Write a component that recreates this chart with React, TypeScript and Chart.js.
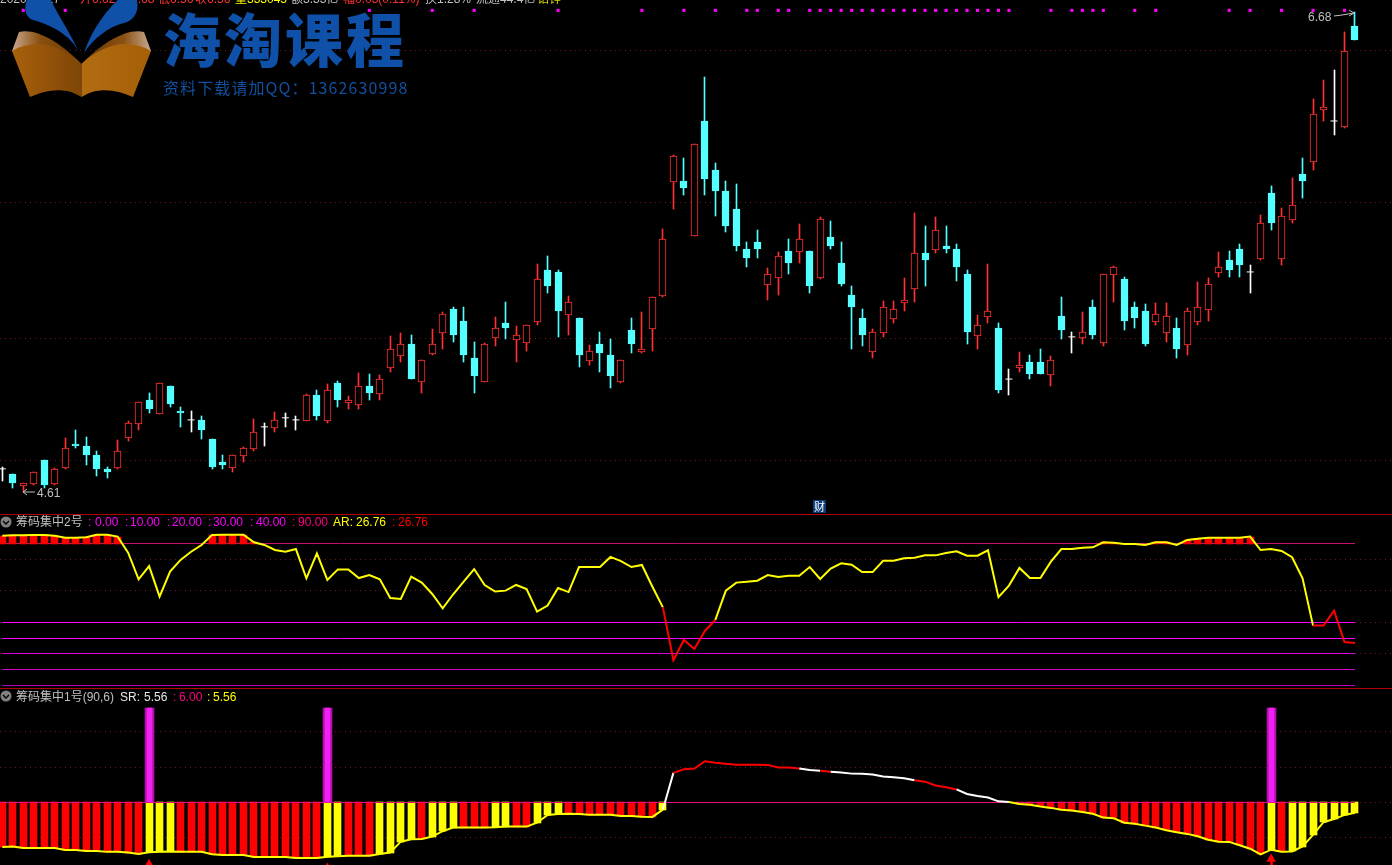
import React, { useEffect, useRef } from "react";
import { Chart, registerables } from "chart.js";

Chart.register(...registerables);

// ---------- price panel ----------
const open = [4.710,4.688,4.638,4.645,4.748,4.645,4.714,4.818,4.809,4.770,4.710,4.714,4.844,4.903,5.007,4.947,5.067,4.960,4.921,4.921,4.839,4.740,4.714,4.766,4.796,4.891,4.887,4.930,4.921,4.917,5.029,4.917,5.080,4.994,4.985,5.067,5.033,5.145,5.197,5.249,5.085,5.206,5.296,5.399,5.348,5.188,5.085,5.274,5.339,5.266,5.253,5.343,5.568,5.559,5.374,5.361,5.176,5.249,5.201,5.085,5.309,5.214,5.313,5.456,5.947,5.952,5.714,6.210,5.999,5.908,5.831,5.658,5.688,5.503,5.533,5.650,5.645,5.650,5.533,5.710,5.598,5.460,5.361,5.214,5.296,5.356,5.425,5.486,5.641,5.654,5.671,5.658,5.550,5.283,5.365,5.318,5.097,5.145,5.171,5.171,5.115,5.369,5.279,5.274,5.408,5.253,5.546,5.529,5.408,5.391,5.343,5.296,5.318,5.244,5.343,5.395,5.555,5.611,5.658,5.559,5.615,5.900,5.615,5.783,5.982,6.033,6.258,6.210,6.184,6.620];
const high = [4.718,4.688,4.649,4.696,4.748,4.714,4.844,4.878,4.848,4.788,4.718,4.835,4.917,4.998,5.037,5.080,5.067,4.977,4.960,4.938,4.839,4.770,4.770,4.805,4.925,4.908,4.955,4.951,4.938,5.033,5.050,5.076,5.089,5.024,5.124,5.120,5.115,5.283,5.296,5.287,5.180,5.313,5.387,5.408,5.408,5.257,5.253,5.365,5.430,5.326,5.331,5.594,5.628,5.568,5.456,5.361,5.244,5.300,5.270,5.180,5.361,5.387,5.451,5.744,6.064,6.051,6.111,6.400,6.029,5.952,5.939,5.688,5.740,5.576,5.645,5.701,5.766,5.650,5.796,5.779,5.688,5.499,5.399,5.313,5.434,5.434,5.533,5.814,5.757,5.796,5.757,5.680,5.568,5.374,5.594,5.339,5.141,5.214,5.201,5.227,5.197,5.451,5.300,5.387,5.438,5.550,5.585,5.538,5.430,5.421,5.425,5.425,5.361,5.404,5.516,5.533,5.645,5.650,5.680,5.589,5.805,5.930,5.835,5.964,6.051,6.305,6.387,6.430,6.594,6.680];
const low = [4.658,4.627,4.610,4.640,4.627,4.640,4.710,4.801,4.727,4.679,4.671,4.710,4.831,4.878,4.951,4.947,4.977,4.891,4.869,4.839,4.710,4.710,4.696,4.740,4.788,4.809,4.869,4.891,4.878,4.917,4.921,4.908,4.977,4.968,4.968,5.007,5.007,5.128,5.171,5.097,5.037,5.201,5.227,5.257,5.171,5.037,5.085,5.240,5.270,5.171,5.219,5.331,5.469,5.279,5.287,5.150,5.158,5.128,5.059,5.080,5.210,5.210,5.219,5.451,5.831,5.891,5.714,5.891,5.801,5.731,5.650,5.581,5.619,5.438,5.460,5.550,5.598,5.469,5.529,5.658,5.499,5.227,5.240,5.188,5.279,5.339,5.391,5.430,5.499,5.641,5.641,5.520,5.249,5.227,5.339,5.037,5.029,5.128,5.097,5.120,5.067,5.270,5.210,5.249,5.270,5.240,5.430,5.309,5.318,5.240,5.331,5.257,5.188,5.201,5.331,5.348,5.538,5.538,5.538,5.469,5.611,5.740,5.589,5.770,5.878,5.999,6.210,6.150,6.180,6.560];
const close = [4.710,4.649,4.647,4.696,4.640,4.710,4.801,4.809,4.770,4.710,4.696,4.788,4.908,4.998,4.968,5.080,4.990,4.951,4.921,4.878,4.718,4.727,4.770,4.801,4.869,4.891,4.921,4.930,4.921,5.029,4.938,5.050,5.007,5.007,5.067,5.037,5.097,5.227,5.249,5.097,5.180,5.249,5.378,5.287,5.201,5.111,5.249,5.318,5.318,5.287,5.331,5.529,5.499,5.391,5.430,5.201,5.219,5.210,5.111,5.180,5.249,5.227,5.451,5.701,6.059,5.921,6.111,5.960,5.908,5.757,5.671,5.619,5.658,5.550,5.628,5.598,5.701,5.499,5.787,5.671,5.507,5.408,5.287,5.300,5.408,5.399,5.438,5.641,5.611,5.740,5.658,5.581,5.300,5.331,5.391,5.050,5.097,5.158,5.120,5.120,5.180,5.309,5.279,5.300,5.287,5.550,5.581,5.348,5.361,5.249,5.378,5.369,5.227,5.391,5.408,5.507,5.581,5.568,5.589,5.559,5.770,5.770,5.801,5.848,5.952,6.240,6.271,6.210,6.512,6.560];
const priceGrid = [6.512, 5.857, 5.27, 4.744];
const signalDots = [2,6,35,41,45,53,61,65,68,71,72,74,75,77,78,79,80,81,82,83,84,85,86,87,88,89,90,91,92,93,94,95,96,100,102,103,104,105,108,110,117,119,122,125,128];
const signalDotLevel = 6.687;

// ---------- 筹码集中2号 ----------
const arValues = [95.0,95.2,95.2,95.4,95.4,95.0,93.7,93.7,94.0,95.6,95.6,94.4,84.2,67.3,75.7,56.3,72.2,79.6,84.8,89.1,95.4,95.6,95.6,95.6,90.8,89.1,85.9,84.8,86.5,67.9,83.8,66.9,73.6,73.6,68.1,70.0,67.3,55.4,54.8,69.0,65.2,58.0,48.9,57.8,65.8,73.8,63.7,59.5,60.1,63.7,61.1,46.8,50.6,61.8,59.2,75.1,75.1,75.1,81.5,78.9,75.1,76.4,62.6,49.5,15.9,28.8,23.1,34.5,41.5,60.1,65.2,65.8,66.4,70.0,68.8,69.6,69.6,75.1,67.5,74.1,77.5,76.6,71.9,71.9,79.1,79.1,80.6,81.0,82.5,82.5,84.0,85.1,82.3,82.3,85.7,55.9,63.3,74.5,68.1,68.1,78.5,86.5,86.5,87.4,87.6,90.8,90.5,89.7,89.7,89.1,90.8,90.8,89.1,92.3,93.1,93.7,93.7,93.7,93.7,94.4,85.9,86.5,85.3,81.3,67.9,37.9,37.9,47.4,27.5,26.8];
const arRedSegments = [63,64,65,66,67,125,126,127,128];
const arLevels = [0, 10, 20, 30, 40, 90];
const arGrid = [80, 60, 40, 20];
const arBarBase = 90;

// ---------- 筹码集中1号 ----------
const srValues = [4.16,4.18,4.12,4.12,4.12,4.12,4.04,4.04,4.00,4.00,3.96,3.96,3.93,3.87,3.94,3.96,3.98,3.96,3.96,3.96,3.86,3.83,3.83,3.83,3.75,3.75,3.75,3.75,3.71,3.71,3.71,3.76,3.78,3.80,3.80,3.80,3.87,3.93,4.38,4.48,4.49,4.59,4.81,4.96,4.96,4.96,4.96,4.97,5.00,5.00,5.00,5.16,5.48,5.52,5.53,5.52,5.49,5.49,5.49,5.44,5.44,5.41,5.40,5.70,7.21,7.36,7.39,7.69,7.63,7.59,7.55,7.55,7.55,7.54,7.43,7.43,7.39,7.33,7.30,7.26,7.23,7.18,7.17,7.14,7.06,7.03,6.99,6.91,6.85,6.69,6.62,6.53,6.34,6.26,6.20,6.04,6.01,5.93,5.90,5.83,5.77,5.69,5.66,5.60,5.53,5.37,5.34,5.16,5.12,5.04,4.96,4.85,4.77,4.70,4.60,4.46,4.38,4.37,4.23,4.09,3.86,4.05,3.97,3.98,4.18,4.66,5.18,5.31,5.48,5.57];
const srYellowBars = [14,15,16,31,32,36,37,38,39,41,42,43,47,48,51,52,53,63,121,123,124,125,126,127,128,129];
const srWhiteSegments = [63,76,77,79,80,81,82,83,84,85,86,91,92,93,94,95];
const srRedSegments = [64,65,66,67,68,69,70,71,72,73,74,75,78,87,88,89,90];
const srBase = 6;
const srGrid = [8.92, 7.44, 6, 4.56];
const srSignals = [14, 31, 121];
const srSignalTop = 9.88;
const arrowHeads = [3.45, 3.3, 3.67];

// ---------- labels ----------
const quoteLabels: [string, string, number][] = [
  ["2020/01/27", "#c0c0c0", 0],
  ["开6.62", "#ff3232", 80],
  ["高6.68", "#ff3232", 119],
  ["低6.56", "#ff3232", 158],
  ["收6.56", "#ff3232", 195],
  ["量333045", "#ffff00", 235],
  ["额3.33亿", "#c0c0c0", 291],
  ["幅0.03(0.11%)", "#ff3232", 343],
  ["换1.28%", "#c0c0c0", 425],
  ["流通44.4亿", "#c0c0c0", 476],
  ["钻锌", "#d8d800", 537],
];
const arLegend: [string, string, number][] = [
  [":", "#ff00ff", 88], ["0.00", "#ff00ff", 95],
  [":", "#ff00ff", 125], ["10.00", "#ff00ff", 130],
  [":", "#ff00ff", 167], ["20.00", "#ff00ff", 172],
  [":", "#ff00ff", 208], ["30.00", "#ff00ff", 213],
  [":", "#ff00ff", 250], ["40.00", "#ff00ff", 256],
  [":", "#ff0080", 292], ["90.00", "#ff0080", 298],
  ["AR:", "#ffff00", 333], ["26.76", "#ffff00", 356],
  [":", "#ff0000", 392], ["26.76", "#ff0000", 398],
];
const srLegend: [string, string, number][] = [
  ["SR:", "#e8e8e8", 120], ["5.56", "#e8e8e8", 144],
  [":", "#ff0080", 173], ["6.00", "#ff0080", 179],
  [":", "#ffff00", 207], ["5.56", "#ffff00", 213],
];

const WIDTH = 1392;
const RED = "#ff3232";
const CYAN = "#54ffff";
const FONT = '"Liberation Sans", Arial, "Noto Sans CJK SC", sans-serif';
const CJK = '"Noto Sans CJK SC", sans-serif';

const xMin = -0.219;
const xMax = 132.53;
const idx = open.map((_, i) => i);
const isDoji = (i: number) => open[i] === close[i];

const snapPlugin = {
  id: "pixelSnap",
  afterDatasetsUpdate(chart: any) {
    chart.getSortedVisibleDatasetMetas().forEach((meta: any) => {
      if (meta.type === "bar") {
        meta.data.forEach((el: any) => {
          el.x = Math.floor(el.x) + 0.5;
          el.y = Math.round(el.y);
          el.base = Math.round(el.base);
          if (el.y === el.base) el.y = el.base - 1;
        });
      } else if (meta.type === "line" && (meta.controller.getDataset() as any).snapLine) {
        meta.data.forEach((el: any) => {
          el.y = Math.floor(el.y) + 0.5;
        });
      }
    });
  },
};

function makeOptions(yMin: number, yMax: number, grid: number[]) {
  return {
    responsive: false,
    animation: false,
    devicePixelRatio: 1,
    events: [],
    layout: { padding: 0, autoPadding: false },
    plugins: { legend: { display: false }, tooltip: { enabled: false }, title: { display: false } },
    scales: {
      x: { type: "linear", min: xMin, max: xMax, display: false, offset: false, grid: { display: false } },
      y: {
        type: "linear",
        min: yMin,
        max: yMax,
        beginAtZero: false,
        position: "left",
        ticks: { display: false, autoSkip: false },
        grid: { color: "#701818", drawTicks: false, lineWidth: 1 },
        border: { display: false, dash: [1, 4] },
        afterBuildTicks: (axis: any) => {
          axis.ticks = grid.map((value) => ({ value }));
        },
        afterFit: (axis: any) => {
          axis.width = 0;
        },
      },
    },
  } as any;
}

function hline(value: number, color: string, order: number, from = 0, to = 129) {
  return {
    type: "line",
    data: [{ x: from, y: value }, { x: to, y: value }],
    borderColor: color,
    borderWidth: 1,
    pointRadius: 0,
    order,
    snapLine: true,
  } as any;
}

function dotsConfig() {
  return {
    type: "scatter",
    data: {
      datasets: [
        {
          data: signalDots.map((i) => ({ x: i, y: signalDotLevel })),
          pointStyle: "rect",
          pointRadius: 2.2,
          backgroundColor: "#ff00ff",
          borderWidth: 0,
        },
      ],
    },
    options: makeOptions(6.7317 - 20 / 231.9, 6.7317, []),
  } as any;
}

function priceConfig() {
  const colorOf = (i: number) => (isDoji(i) ? "#ffffff" : close[i] > open[i] ? RED : CYAN);
  const bodies = idx.filter((i) => !isDoji(i));
  const dojis = idx.filter(isDoji);
  return {
    type: "bar",
    data: {
      datasets: [
        {
          type: "scatter",
          data: dojis.map((i) => ({ x: i, y: open[i] })),
          pointStyle: "line",
          pointRadius: 3.5,
          borderColor: "#ffffff",
          borderWidth: 1,
          order: 2,
        },
        {
          type: "bar",
          data: bodies.map((i) => ({ x: i, y: [open[i], close[i]] })),
          backgroundColor: bodies.map((i) => (close[i] > open[i] ? "#000000" : CYAN)),
          borderColor: bodies.map(colorOf),
          borderWidth: 1,
          borderSkipped: false,
          barThickness: 7,
          grouped: false,
          order: 3,
        },
        {
          type: "bar",
          data: idx.map((i) => ({ x: i, y: [low[i], high[i]] })),
          backgroundColor: idx.map(colorOf),
          borderWidth: 0,
          barThickness: 1,
          grouped: false,
          order: 4,
        },
      ],
    },
    options: makeOptions(6.7317 - 514 / 231.9, 6.7317, priceGrid),
    plugins: [snapPlugin],
  } as any;
}

function arConfig() {
  const barIdx = idx.filter((i) => arValues[i] > arBarBase);
  const levelColors = ["#c000c0", "#d000d0", "#e000e0", "#ff00ff", "#ff00ff", "#c8106e"];
  return {
    type: "bar",
    data: {
      datasets: [
        {
          type: "line",
          data: idx.map((i) => ({ x: i, y: arValues[i] })),
          borderColor: "#ffff00",
          borderWidth: 2,
          pointRadius: 0,
          tension: 0,
          segment: {
            borderColor: (ctx: any) => (arRedSegments.includes(ctx.p0DataIndex) ? "#ff0000" : "#ffff00"),
          },
          order: 1,
        },
        {
          type: "bar",
          data: barIdx.map((i) => ({ x: i, y: [arBarBase, arValues[i]] })),
          backgroundColor: "#ff0000",
          borderWidth: 0,
          barThickness: 7,
          grouped: false,
          order: 2,
        },
        ...arLevels.map((v, k) => hline(v, levelColors[k], 3)),
      ],
    },
    options: makeOptions((685.3 - 688) / 1.575, (685.3 - 515) / 1.575, arGrid),
    plugins: [snapPlugin],
  } as any;
}

function srConfig() {
  const barIdx = idx.filter((i) => srValues[i] < srBase);
  return {
    type: "bar",
    data: {
      datasets: [
        {
          type: "line",
          data: idx.map((i) => ({ x: i, y: srValues[i] })),
          borderColor: "#ffff00",
          borderWidth: 2,
          pointRadius: 0,
          tension: 0,
          segment: {
            borderColor: (ctx: any) =>
              srWhiteSegments.includes(ctx.p0DataIndex)
                ? "#ffffff"
                : srRedSegments.includes(ctx.p0DataIndex)
                ? "#ff0000"
                : "#ffff00",
          },
          order: 1,
        },
        {
          type: "scatter",
          data: srSignals.map((i, k) => ({ x: i, y: arrowHeads[k] })),
          pointStyle: "triangle",
          pointRadius: 5.5,
          backgroundColor: "#ff0000",
          borderWidth: 0,
          order: 2,
        },
        {
          type: "bar",
          data: [{ x: srSignals[2], y: [3.42, arrowHeads[2]] }],
          backgroundColor: "#ff0000",
          borderWidth: 0,
          barThickness: 2,
          grouped: false,
          order: 2,
        },
        {
          type: "bar",
          data: srSignals.map((i) => ({ x: i, y: [srBase, srSignalTop] })),
          backgroundColor: "#f020f0",
          borderWidth: 0,
          barThickness: 5,
          grouped: false,
          order: 3,
        },
        {
          type: "bar",
          data: srSignals.map((i) => ({ x: i, y: [srBase, srSignalTop] })),
          backgroundColor: "#b010b0",
          borderWidth: 0,
          barThickness: 9,
          grouped: false,
          order: 4,
        },
        hline(srBase, "#e8107a", 5, xMin, 129),
        {
          type: "bar",
          data: barIdx.map((i) => ({ x: i, y: [srBase, srValues[i]] })),
          backgroundColor: barIdx.map((i) => (srYellowBars.includes(i) ? "#ffff00" : "#ff0000")),
          borderWidth: 0,
          barThickness: 7,
          grouped: false,
          order: 6,
        },
      ],
    },
    options: makeOptions(6 - (865 - 802.3) / 24.3, 6 + (802.3 - 689) / 24.3, srGrid),
    plugins: [snapPlugin],
  } as any;
}

function Label({ x, y, color, children, font = FONT, size = 12 }: any) {
  return (
    <span
      style={{
        position: "absolute",
        left: x,
        top: y,
        color,
        font: `${size}px/12px ${font}`,
        whiteSpace: "nowrap",
      }}
    >
      {children}
    </span>
  );
}

function FoldIcon({ y }: { y: number }) {
  return (
    <svg style={{ position: "absolute", left: 0, top: y - 6 }} width="12" height="12">
      <circle cx="6" cy="6" r="5.5" fill="#808080" />
      <path d="M3 5 L6 8 L9 5" stroke="#000" strokeWidth="1.4" fill="none" />
    </svg>
  );
}

function Logo() {
  return (
    <>
      <svg style={{ position: "absolute", left: 0, top: 0 }} width="170" height="100">
        <defs>
          <linearGradient id="lp" x1="0" x2="1" y1="0" y2="0">
            <stop offset="0" stopColor="#a9610c" />
            <stop offset="1" stopColor="#7e4506" />
          </linearGradient>
          <linearGradient id="rp" x1="0" x2="1" y1="0" y2="0">
            <stop offset="0" stopColor="#b26c10" />
            <stop offset="1" stopColor="#a45f08" />
          </linearGradient>
          <linearGradient id="lh" x1="0" x2="1" y1="0" y2="0">
            <stop offset="0" stopColor="#c8a890" />
            <stop offset="0.4" stopColor="#8a5010" />
            <stop offset="1" stopColor="#6a3a04" />
          </linearGradient>
          <linearGradient id="rh" x1="1" x2="0" y1="0" y2="0">
            <stop offset="0" stopColor="#c8a890" />
            <stop offset="0.4" stopColor="#8a5010" />
            <stop offset="1" stopColor="#6a3a04" />
          </linearGradient>
        </defs>
        <path d="M19 32 C36 28 60 42 81.5 64 L12 51 Z" fill="url(#lh)" />
        <path d="M144 32 C127 28 103 42 81.5 64 L151 51 Z" fill="url(#rh)" />
        <path d="M12 51 C35 38 60 44 81.5 64 L81.5 97 C65 86 45 90 30 97 Z" fill="url(#lp)" />
        <path d="M151 51 C128 38 103 44 81.5 64 L81.5 97 C98 86 118 90 133 97 Z" fill="url(#rp)" />
        <path d="M79 53 C72 36 52 25 33 20 C25 17 23 7 28 -2 L50 -2 C58 16 72 35 79 53 Z" fill="#0f50a8" />
        <path d="M84 53 C90 35 102 14 120 -2 L136 -2 C140 8 136 20 124 23 C108 27 94 38 84 53 Z" fill="#0f50a8" />
      </svg>
      <div
        style={{
          position: "absolute",
          left: 163,
          top: 1,
          font: `900 58px/72px ${CJK}`,
          letterSpacing: 3,
          color: "#0f50a8",
          whiteSpace: "nowrap",
        }}
      >
        海淘课程
      </div>
      <div
        style={{
          position: "absolute",
          left: 163,
          top: 77,
          font: `16px/20px ${CJK}`,
          letterSpacing: 1.1,
          color: "#12509f",
          whiteSpace: "nowrap",
        }}
      >
        资料下载请加QQ：1362630998
      </div>
    </>
  );
}

export default function App() {
  const priceRef = useRef<HTMLCanvasElement>(null);
  const dotsRef = useRef<HTMLCanvasElement>(null);
  const arRef = useRef<HTMLCanvasElement>(null);
  const srRef = useRef<HTMLCanvasElement>(null);

  useEffect(() => {
    document.body.style.margin = "0";
    document.body.style.background = "#000";
    const charts = [
      new Chart(priceRef.current as any, priceConfig()),
      new Chart(dotsRef.current as any, dotsConfig()),
      new Chart(arRef.current as any, arConfig()),
      new Chart(srRef.current as any, srConfig()),
    ];
    return () => charts.forEach((c) => c.destroy());
  }, []);

  const canvasStyle = (top: number): React.CSSProperties => ({ position: "absolute", left: 0, top, display: "block" });

  return (
    <div style={{ position: "fixed", left: 0, top: 0, width: WIDTH, height: 865, background: "#000", overflow: "hidden" }}>
      <canvas ref={priceRef} width={WIDTH} height={514} style={canvasStyle(0)} />
      <canvas ref={arRef} width={WIDTH} height={173} style={canvasStyle(515)} />
      <canvas ref={srRef} width={WIDTH} height={176} style={canvasStyle(689)} />
      <div style={{ position: "absolute", left: 0, top: 514, width: WIDTH, height: 1, background: "#b00000" }} />
      <div style={{ position: "absolute", left: 0, top: 688, width: WIDTH, height: 1, background: "#b00000" }} />

      {quoteLabels.map(([t, c, x]) => (
        <Label key={t} x={x} y={-7} color={c}>{t}</Label>
      ))}

      <Logo />
      <canvas ref={dotsRef} width={WIDTH} height={20} style={canvasStyle(0)} />

      <svg style={{ position: "absolute", left: 0, top: 0, pointerEvents: "none" }} width={WIDTH} height={514}>
        <path d="M35 492 L24 492 M27 489 L23 492 L27 495" stroke="#c0c0c0" fill="none" />
        <path d="M1334 16 L1342 15 L1354 13 M1349 10 L1354 13 L1349 16" stroke="#c0c0c0" fill="none" />
      </svg>
      <Label x={37} y={487} color="#c0c0c0">4.61</Label>
      <Label x={1308} y={11} color="#c0c0c0">6.68</Label>
      <span
        style={{
          position: "absolute",
          left: 813,
          top: 500,
          width: 13,
          height: 13,
          background: "#0a3a78",
          color: "#fff",
          font: `11px/13px ${CJK}`,
          textAlign: "center",
        }}
      >
        财
      </span>

      <FoldIcon y={522} />
      <Label x={16} y={516} color="#c0c0c0" font={FONT}>筹码集中2号</Label>
      {arLegend.map(([t, c, x], k) => (
        <Label key={k} x={x} y={516} color={c}>{t}</Label>
      ))}

      <FoldIcon y={696} />
      <Label x={16} y={691} color="#c0c0c0" font={FONT}>筹码集中1号(90,6)</Label>
      {srLegend.map(([t, c, x], k) => (
        <Label key={k} x={x} y={691} color={c}>{t}</Label>
      ))}
    </div>
  );
}
